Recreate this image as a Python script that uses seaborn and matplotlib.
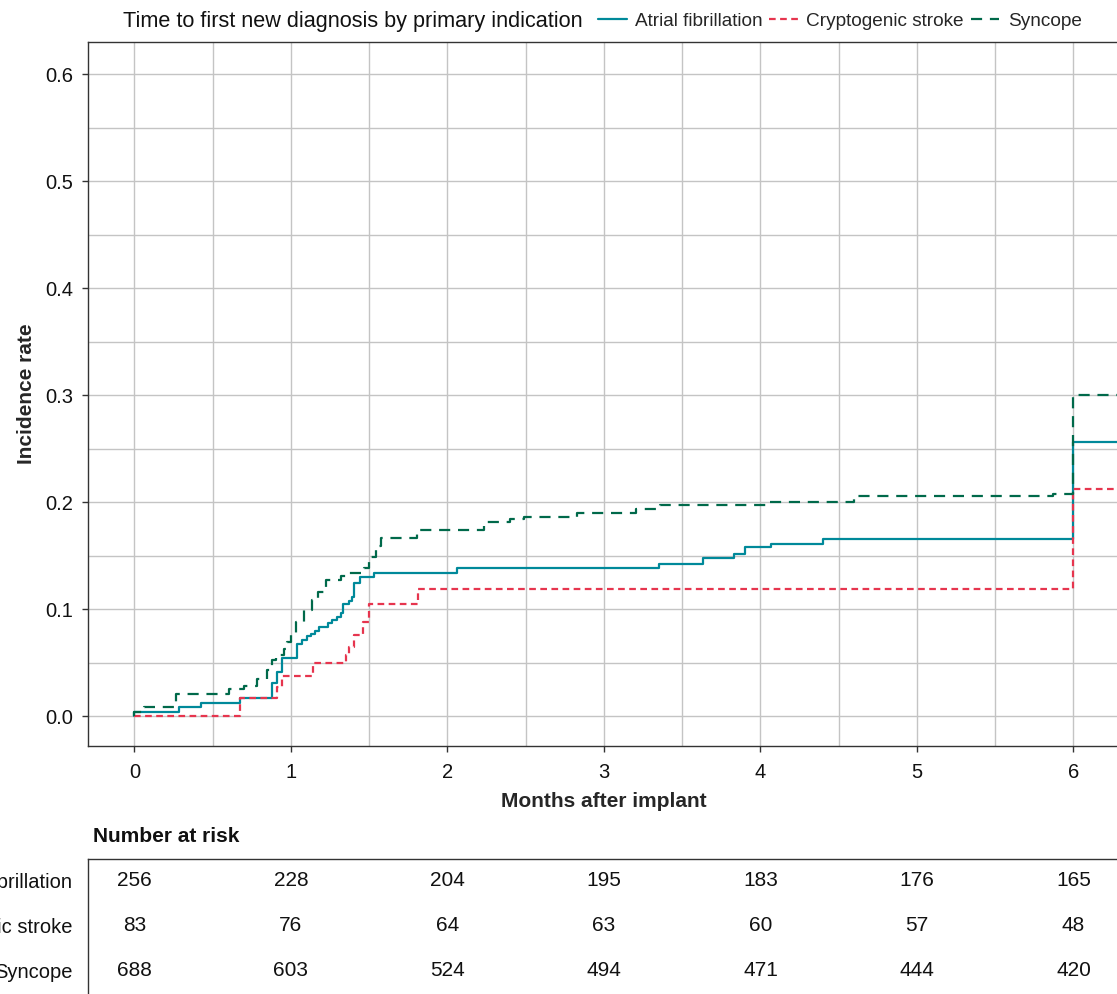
import numpy as np
import pandas as pd
import matplotlib
matplotlib.use("Agg")
import matplotlib.pyplot as plt
from matplotlib.ticker import MultipleLocator
import seaborn as sns

# Cumulative incidence (step functions) by primary indication
indications = ["Atrial fibrillation", "Cryptogenic stroke", "Syncope"]

af_months = [0, 0, 0.285, 0.424, 0.675, 0.877, 0.914, 0.94, 1.04, 1.069, 1.105, 1.131,
             1.154, 1.18, 1.237, 1.265, 1.293, 1.318, 1.335, 1.371, 1.393, 1.404, 1.442,
             1.53, 2.06, 3.35, 3.63, 3.83, 3.90, 4.07, 4.40, 6.0, 6.3]
af_rate = [0, 0.004, 0.0087, 0.0124, 0.0165, 0.0305, 0.041, 0.0545, 0.067, 0.071, 0.0748,
           0.077, 0.0797, 0.0835, 0.0866, 0.0897, 0.0922, 0.096, 0.1047, 0.1075, 0.1115,
           0.1246, 0.130, 0.134, 0.1383, 0.142, 0.148, 0.1514, 0.1577, 0.1604, 0.1654,
           0.2564, 0.2564]

cs_months = [0, 0.675, 0.914, 0.94, 1.14, 1.35, 1.372, 1.404, 1.463, 1.499, 1.813, 6.0, 6.3]
cs_rate = [0, 0.0165, 0.0274, 0.0377, 0.0498, 0.057, 0.0648, 0.0757, 0.088, 0.105, 0.1184,
           0.2118, 0.2118]

sy_months = [0, 0, 0.062, 0.264, 0.605, 0.70, 0.78, 0.845, 0.877, 0.903, 0.956, 0.977,
             1.003, 1.03, 1.084, 1.137, 1.17, 1.222, 1.318, 1.35, 1.467, 1.499, 1.542,
             1.574, 1.808, 2.234, 2.40, 2.49, 2.83, 3.205, 3.355, 4.057, 4.60, 5.867,
             6.0, 6.3]
sy_rate = [0, 0.004, 0.0087, 0.021, 0.025, 0.028, 0.0343, 0.043, 0.0523, 0.057, 0.063,
           0.0695, 0.077, 0.088, 0.099, 0.1084, 0.116, 0.127, 0.1308, 0.134, 0.138, 0.149,
           0.159, 0.166, 0.1738, 0.1816, 0.184, 0.1863, 0.19, 0.1935, 0.197, 0.200,
           0.2056, 0.2075, 0.300, 0.300]

# Number at risk at each whole month
risk_months = [0, 1, 2, 3, 4, 5, 6]
risk_af = [256, 228, 204, 195, 183, 176, 165]
risk_cs = [83, 76, 64, 63, 60, 57, 48]
risk_sy = [688, 603, 524, 494, 471, 444, 420]

colors = {"Atrial fibrillation": "#00899A",
          "Cryptogenic stroke": "#E6354E",
          "Syncope": "#00694A"}
dashes = {"Atrial fibrillation": "",
          "Cryptogenic stroke": (3, 2),
          "Syncope": (5, 3.5)}

df = pd.concat([
    pd.DataFrame({"month": af_months, "rate": af_rate, "indication": indications[0]}),
    pd.DataFrame({"month": cs_months, "rate": cs_rate, "indication": indications[1]}),
    pd.DataFrame({"month": sy_months, "rate": sy_rate, "indication": indications[2]}),
], ignore_index=True)

sns.set_theme(style="whitegrid")
plt.rcParams["font.family"] = ["Liberation Sans", "DejaVu Sans"]
plt.rcParams["axes.edgecolor"] = "#333333"
plt.rcParams["axes.linewidth"] = 1.0

W, H = 1117, 994
fig = plt.figure(figsize=(W / 100, H / 100), dpi=100)

x_lo, x_hi = -0.3, 6.3
px_per_month = 156.5
ax_left = 87.5
ax_w = (x_hi - x_lo) * px_per_month
ax = fig.add_axes([ax_left / W, (H - 746) / H, ax_w / W, (746 - 42) / H])

sns.lineplot(data=df, x="month", y="rate", hue="indication", style="indication",
             hue_order=indications, style_order=indications,
             palette=colors, dashes=dashes, estimator=None, sort=False,
             drawstyle="steps-post", linewidth=1.6, legend=False, ax=ax)

ax.set_xlim(x_lo, x_hi)
ax.set_ylim(-0.028, 0.630)
ax.xaxis.set_major_locator(MultipleLocator(1))
ax.xaxis.set_minor_locator(MultipleLocator(0.5))
ax.yaxis.set_major_locator(MultipleLocator(0.1))
ax.yaxis.set_minor_locator(MultipleLocator(0.05))
ax.xaxis.set_major_formatter(plt.FuncFormatter(lambda v, p: f"{v:.0f}"))
ax.yaxis.set_major_formatter(plt.FuncFormatter(lambda v, p: f"{v:.1f}"))
ax.grid(which="both", color="#c4c4c4", linewidth=1.0)
ax.tick_params(which="major", length=4.5, width=1.0, color="#333333", labelsize=14.5,
               labelcolor="#111111")
ax.tick_params(axis="x", which="major", pad=8, bottom=True)
ax.tick_params(axis="y", which="major", pad=5.5, left=True)
ax.tick_params(which="minor", length=0)
for s in ["left", "top", "bottom", "right"]:
    ax.spines[s].set_visible(True)
    ax.spines[s].set_color("#333333")

ax.set_xlabel("Months after implant", fontsize=15, fontweight="bold", labelpad=7)
ax.set_ylabel("Incidence rate", fontsize=15, fontweight="bold", labelpad=7)

# Title and inline legend above the plot
fig.text(123 / W, 1 - 21 / H, "Time to first new diagnosis by primary indication",
         fontsize=15.6, ha="left", va="center", color="#111111")
handles = ax.get_lines()[:3]
fig.legend(handles, indications, loc="center left",
           bbox_to_anchor=(598 / W, 1 - 21 / H), ncol=3, frameon=False, fontsize=13.7,
           handlelength=1.5, handletextpad=0.45, columnspacing=0.35, borderaxespad=0,
           borderpad=0)

# Number at risk table
tab_top = 859
tab_bottom = 1014
tab = fig.add_axes([ax_left / W, (H - tab_bottom) / H, ax_w / W, (tab_bottom - tab_top) / H])
row_gap = 44.5
tab.set_xlim(x_lo, x_hi)
tab.set_ylim((tab_bottom - 881) / row_gap, -(881 - tab_top) / row_gap)
tab.set_facecolor("white")
tab.grid(False)
for s in ["bottom", "right"]:
    tab.spines[s].set_visible(False)
for s in ["left", "top"]:
    tab.spines[s].set_visible(True)
    tab.spines[s].set_color("#333333")
tab.set_xticks([])
tab.set_yticks([0, 1, 2])
tab.set_yticklabels(indications, fontsize=14.5, color="#111111")
tab.tick_params(axis="y", length=0, pad=11)

for row, counts in enumerate([risk_af, risk_cs, risk_sy]):
    for m, n in zip(risk_months, counts):
        tab.text(m, row, str(n), ha="center", va="center", fontsize=15, color="#111111")

tab.text(5.5 / ax_w, 1 + (859 - 837) / (tab_bottom - tab_top), "Number at risk",
         transform=tab.transAxes, ha="left", va="center", fontsize=15,
         fontweight="bold", color="#111111")

fig.savefig("out.png", dpi=100)
